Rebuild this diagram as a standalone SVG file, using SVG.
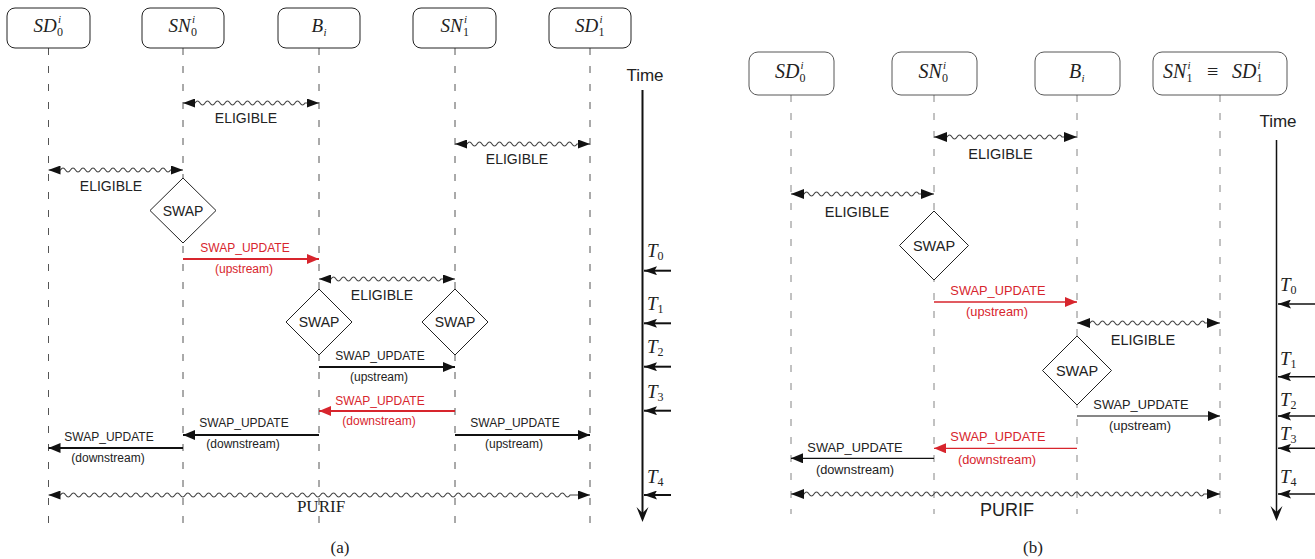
<svg xmlns="http://www.w3.org/2000/svg" width="1315" height="559" viewBox="0 0 1315 559">
<style>
.box{fill:#fff;stroke:#222;stroke-width:1}
.boxb{fill:#fff;stroke:#444;stroke-width:0.9}
.life{fill:none;stroke:#555;stroke-width:1;stroke-dasharray:7 11}
.lifeb{fill:none;stroke:#777;stroke-width:0.9;stroke-dasharray:7 11}
.dia{fill:#fff;stroke:#222;stroke-width:1}
.wave{fill:none;stroke:#444;stroke-width:1.1}
.msg{fill:none;stroke:#111;stroke-width:2}
.msgr{fill:none;stroke:#d7252d;stroke-width:2}
.msgb{fill:none;stroke:#111;stroke-width:1.2}
.msgbr{fill:none;stroke:#d7252d;stroke-width:1.3}
.axis{fill:none;stroke:#111;stroke-width:2}
.axisb{fill:none;stroke:#111;stroke-width:1.5}
.m{font-family:"Liberation Serif","Times New Roman",serif;font-style:italic;font-size:19px;fill:#222}
.mb{font-family:"Liberation Serif","Times New Roman",serif;font-style:italic;font-size:20px;fill:#222}
.sub{font-style:normal;font-size:12px}
.subi{font-size:11px}
.t{font-family:"Liberation Sans",Arial,sans-serif;fill:#222;text-anchor:middle}
.s12{font-size:12px}
.s13{font-size:12.8px}
.el{font-size:14px}
.elb{font-size:14.5px}
.red{fill:#d7252d}
.serif{font-family:"Liberation Serif","Times New Roman",serif;fill:#222;text-anchor:middle}
</style>
<defs>
<marker id="aw" viewBox="0 0 12 9" refX="12" refY="4.5" markerWidth="12" markerHeight="9" markerUnits="userSpaceOnUse" orient="auto-start-reverse"><path d="M0,0 L12,4.5 L0,9 z" fill="#111"/></marker>
<marker id="awb" viewBox="0 0 13 10" refX="13" refY="5" markerWidth="13" markerHeight="10" markerUnits="userSpaceOnUse" orient="auto-start-reverse"><path d="M0,0 L13,5 L0,10 z" fill="#111"/></marker>
<marker id="ak" viewBox="0 0 12 10" refX="12" refY="5" markerWidth="12" markerHeight="10" markerUnits="userSpaceOnUse" orient="auto"><path d="M0,0 L12,5 L0,10 z" fill="#111"/></marker>
<marker id="ar" viewBox="0 0 12 10" refX="12" refY="5" markerWidth="12" markerHeight="10" markerUnits="userSpaceOnUse" orient="auto"><path d="M0,0 L12,5 L0,10 z" fill="#d7252d"/></marker>
<marker id="at" viewBox="0 0 13 9" refX="13" refY="4.5" markerWidth="13" markerHeight="9" markerUnits="userSpaceOnUse" orient="auto"><path d="M0,0 L13,4.5 L0,9 L2.5,4.5 z" fill="#111"/></marker>
</defs>
<rect width="1315" height="559" fill="#fff"/>

<!-- ===== Panel (a) ===== -->
<g id="a-SD0">
<line class="life" x1="48.5" y1="48" x2="48.5" y2="523"/>
<rect class="box" x="7" y="8" width="83" height="40" rx="8"/>
<text class="m" x="33.5" y="32">SD<tspan class="sub" x="57" y="36">0</tspan><tspan class="subi" x="58" y="23">i</tspan></text>
</g>
<g id="a-SN0">
<line class="life" x1="183" y1="48" x2="183" y2="523"/>
<rect class="box" x="142" y="8" width="82" height="40" rx="8"/>
<text class="m" x="168.5" y="32">SN<tspan class="sub" x="191" y="36">0</tspan><tspan class="subi" x="192" y="23">i</tspan></text>
</g>
<g id="a-B">
<line class="life" x1="319" y1="48" x2="319" y2="523"/>
<rect class="box" x="278" y="8" width="82" height="40" rx="8"/>
<text class="m" x="311.5" y="32">B<tspan class="subi" x="323.5" y="36">i</tspan></text>
</g>
<g id="a-SN1">
<line class="life" x1="455" y1="48" x2="455" y2="523"/>
<rect class="box" x="413" y="8" width="83" height="40" rx="8"/>
<text class="m" x="440.5" y="32">SN<tspan class="sub" x="463" y="36">1</tspan><tspan class="subi" x="464" y="23">i</tspan></text>
</g>
<g id="a-SD1">
<line class="life" x1="590" y1="48" x2="590" y2="523"/>
<rect class="box" x="549" y="8" width="82" height="40" rx="8"/>
<text class="m" x="575" y="32">SD<tspan class="sub" x="598.5" y="36">1</tspan><tspan class="subi" x="599.5" y="23">i</tspan></text>
</g>
<g id="a-swap-SN0">
<polygon class="dia" points="183,178 216,210.5 183,243 150,210.5"/>
<text class="t el" x="183" y="215.5">SWAP</text>
</g>
<g id="a-swap-B">
<polygon class="dia" points="319,289 352,322 319,355 286,322"/>
<text class="t el" x="319" y="327">SWAP</text>
</g>
<g id="a-swap-SN1">
<polygon class="dia" points="455,289 488,322 455,355 422,322"/>
<text class="t el" x="455" y="327">SWAP</text>
</g>

<g id="a-connectors">
<path class="wave" marker-start="url(#aw)" marker-end="url(#aw)" d="M183,103 h12 q2.5,-4 5,0 t5,0 t5,0 t5,0 t5,0 t5,0 t5,0 t5,0 t5,0 t5,0 t5,0 t5,0 t5,0 t5,0 t5,0 t5,0 t5,0 t5,0 t5,0 t5,0 t5,0 t5,0 H319"/>
<text class="t el" x="246" y="123">ELIGIBLE</text>
<path class="wave" marker-start="url(#aw)" marker-end="url(#aw)" d="M455,144 h12 q2.5,-4 5,0 t5,0 t5,0 t5,0 t5,0 t5,0 t5,0 t5,0 t5,0 t5,0 t5,0 t5,0 t5,0 t5,0 t5,0 t5,0 t5,0 t5,0 t5,0 t5,0 t5,0 t5,0 H590"/>
<text class="t el" x="517" y="164">ELIGIBLE</text>
<path class="wave" marker-start="url(#aw)" marker-end="url(#aw)" d="M48.5,170 h12 q2.5,-4 5,0 t5,0 t5,0 t5,0 t5,0 t5,0 t5,0 t5,0 t5,0 t5,0 t5,0 t5,0 t5,0 t5,0 t5,0 t5,0 t5,0 t5,0 t5,0 t5,0 t5,0 t5,0 H183"/>
<text class="t el" x="111" y="191">ELIGIBLE</text>
<line class="msgr" x1="183" y1="259" x2="319" y2="259" marker-end="url(#ar)"/>
<text class="t s12 red" x="245" y="252">SWAP_UPDATE</text>
<text class="t s12 red" x="244" y="273">(upstream)</text>
<path class="wave" marker-start="url(#aw)" marker-end="url(#aw)" d="M319,279 h12 q2.5,-4 5,0 t5,0 t5,0 t5,0 t5,0 t5,0 t5,0 t5,0 t5,0 t5,0 t5,0 t5,0 t5,0 t5,0 t5,0 t5,0 t5,0 t5,0 t5,0 t5,0 t5,0 t5,0 H455"/>
<text class="t el" x="382" y="300">ELIGIBLE</text>
<line class="msg" x1="319" y1="367" x2="455" y2="367" marker-end="url(#ak)"/>
<text class="t s12" x="380" y="360">SWAP_UPDATE</text>
<text class="t s12" x="379" y="381">(upstream)</text>
<line class="msgr" x1="455" y1="411" x2="319" y2="411" marker-end="url(#ar)"/>
<text class="t s12 red" x="380" y="405">SWAP_UPDATE</text>
<text class="t s12 red" x="379" y="425">(downstream)</text>
<line class="msg" x1="319" y1="435" x2="183" y2="435" marker-end="url(#ak)"/>
<text class="t s12" x="244" y="427">SWAP_UPDATE</text>
<text class="t s12" x="243" y="448">(downstream)</text>
<line class="msg" x1="455" y1="435" x2="590" y2="435" marker-end="url(#ak)"/>
<text class="t s12" x="515" y="427">SWAP_UPDATE</text>
<text class="t s12" x="514" y="448">(upstream)</text>
<line class="msg" x1="183" y1="448" x2="48.5" y2="448" marker-end="url(#ak)"/>
<text class="t s12" x="109" y="441">SWAP_UPDATE</text>
<text class="t s12" x="108" y="462">(downstream)</text>
<path class="wave" marker-start="url(#aw)" marker-end="url(#aw)" d="M48.5,495 h12 q2.6,-4 5.2,0 t5.2,0 t5.2,0 t5.2,0 t5.2,0 t5.2,0 t5.2,0 t5.2,0 t5.2,0 t5.2,0 t5.2,0 t5.2,0 t5.2,0 t5.2,0 t5.2,0 t5.2,0 t5.2,0 t5.2,0 t5.2,0 t5.2,0 t5.2,0 t5.2,0 t5.2,0 t5.2,0 t5.2,0 t5.2,0 t5.2,0 t5.2,0 t5.2,0 t5.2,0 t5.2,0 t5.2,0 t5.2,0 t5.2,0 t5.2,0 t5.2,0 t5.2,0 t5.2,0 t5.2,0 t5.2,0 t5.2,0 t5.2,0 t5.2,0 t5.2,0 t5.2,0 t5.2,0 t5.2,0 t5.2,0 t5.2,0 t5.2,0 t5.2,0 t5.2,0 t5.2,0 t5.2,0 t5.2,0 t5.2,0 t5.2,0 t5.2,0 t5.2,0 t5.2,0 t5.2,0 t5.2,0 t5.2,0 t5.2,0 t5.2,0 t5.2,0 t5.2,0 t5.2,0 t5.2,0 t5.2,0 t5.2,0 t5.2,0 t5.2,0 t5.2,0 t5.2,0 t5.2,0 t5.2,0 t5.2,0 t5.2,0 t5.2,0 t5.2,0 t5.2,0 t5.2,0 t5.2,0 t5.2,0 t5.2,0 t5.2,0 t5.2,0 t5.2,0 t5.2,0 t5.2,0 t5.2,0 t5.2,0 t5.2,0 t5.2,0 t5.2,0 t5.2,0 t5.2,0 H590"/>
<text class="serif" x="321" y="512" font-size="17">PURIF</text>
</g>

<g id="a-time">
<text class="t" x="645" y="81" font-size="17">Time</text>
<line class="axis" x1="642.5" y1="90" x2="642.5" y2="514"/>
<polygon points="642.5,522 636.5,507 642.5,513 648.5,507" fill="#111"/>
<line class="axis" x1="671" y1="270.7" x2="644" y2="270.7" marker-end="url(#at)"/>
<line class="axis" x1="671" y1="323.3" x2="644" y2="323.3" marker-end="url(#at)"/>
<line class="axis" x1="671" y1="366.7" x2="644" y2="366.7" marker-end="url(#at)"/>
<line class="axis" x1="671" y1="410.7" x2="644" y2="410.7" marker-end="url(#at)"/>
<line class="axis" x1="671" y1="495" x2="644" y2="495" marker-end="url(#at)"/>
<text class="m" x="647" y="257">T<tspan class="sub" dy="3">0</tspan></text>
<text class="m" x="647" y="310">T<tspan class="sub" dy="3">1</tspan></text>
<text class="m" x="647" y="353">T<tspan class="sub" dy="3">2</tspan></text>
<text class="m" x="647" y="398">T<tspan class="sub" dy="3">3</tspan></text>
<text class="m" x="647" y="483">T<tspan class="sub" dy="3">4</tspan></text>
</g>
<text class="serif" x="340" y="553" font-size="17">(a)</text>

<!-- ===== Panel (b) ===== -->
<g id="b-SD0">
<line class="lifeb" x1="791" y1="95" x2="791" y2="514"/>
<rect class="boxb" x="749" y="52" width="85" height="43" rx="9"/>
<text class="mb" x="775" y="78">SD<tspan class="sub" x="799.5" y="82">0</tspan><tspan class="subi" x="800.5" y="69">i</tspan></text>
</g>
<g id="b-SN0">
<line class="lifeb" x1="934" y1="95" x2="934" y2="514"/>
<rect class="boxb" x="892" y="52" width="85" height="43" rx="9"/>
<text class="mb" x="918.5" y="78">SN<tspan class="sub" x="942" y="82">0</tspan><tspan class="subi" x="943" y="69">i</tspan></text>
</g>
<g id="b-B">
<line class="lifeb" x1="1077" y1="95" x2="1077" y2="514"/>
<rect class="boxb" x="1035" y="52" width="85" height="43" rx="9"/>
<text class="mb" x="1069" y="78">B<tspan class="subi" x="1081.5" y="82">i</tspan></text>
</g>
<g id="b-SN1SD1">
<line class="lifeb" x1="1220" y1="95" x2="1220" y2="514"/>
<rect class="boxb" x="1153" y="52" width="134" height="43" rx="9"/>
<text class="mb" x="1163" y="78">SN<tspan class="sub" x="1186.5" y="82">1</tspan><tspan class="subi" x="1187.5" y="69">i</tspan><tspan x="1207" y="78" font-style="normal">≡</tspan><tspan x="1232" y="78">SD</tspan><tspan class="sub" x="1256.5" y="82">1</tspan><tspan class="subi" x="1257.5" y="69">i</tspan></text>
</g>
<g id="b-swap-SN0">
<polygon class="dia" points="934,211 968.5,245.5 934,280 899.5,245.5"/>
<text class="t elb" x="934" y="250.5">SWAP</text>
</g>
<g id="b-swap-B">
<polygon class="dia" points="1077,336 1111.5,370.5 1077,405 1042.5,370.5"/>
<text class="t elb" x="1077" y="375.5">SWAP</text>
</g>

<g id="b-connectors">
<path class="wave" marker-start="url(#awb)" marker-end="url(#awb)" d="M934,137 h13 q2.5,-4 5,0 t5,0 t5,0 t5,0 t5,0 t5,0 t5,0 t5,0 t5,0 t5,0 t5,0 t5,0 t5,0 t5,0 t5,0 t5,0 t5,0 t5,0 t5,0 t5,0 t5,0 t5,0 t5,0 H1077"/>
<text class="t elb" x="1000.5" y="159">ELIGIBLE</text>
<path class="wave" marker-start="url(#awb)" marker-end="url(#awb)" d="M791,194 h13 q2.5,-4 5,0 t5,0 t5,0 t5,0 t5,0 t5,0 t5,0 t5,0 t5,0 t5,0 t5,0 t5,0 t5,0 t5,0 t5,0 t5,0 t5,0 t5,0 t5,0 t5,0 t5,0 t5,0 t5,0 H934"/>
<text class="t elb" x="857" y="217">ELIGIBLE</text>
<line class="msgbr" x1="934" y1="302" x2="1077" y2="302" marker-end="url(#ar)"/>
<text class="t s13 red" x="998" y="294.5">SWAP_UPDATE</text>
<text class="t s13 red" x="997" y="316">(upstream)</text>
<path class="wave" marker-start="url(#awb)" marker-end="url(#awb)" d="M1077,323 h13 q2.5,-4 5,0 t5,0 t5,0 t5,0 t5,0 t5,0 t5,0 t5,0 t5,0 t5,0 t5,0 t5,0 t5,0 t5,0 t5,0 t5,0 t5,0 t5,0 t5,0 t5,0 t5,0 t5,0 t5,0 H1220"/>
<text class="t elb" x="1143" y="344.5">ELIGIBLE</text>
<line class="msgb" x1="1077" y1="416" x2="1220" y2="416" marker-end="url(#ak)"/>
<text class="t s13" x="1141" y="408.5">SWAP_UPDATE</text>
<text class="t s13" x="1140" y="430">(upstream)</text>
<line class="msgbr" x1="1077" y1="448.3" x2="934" y2="448.3" marker-end="url(#ar)"/>
<text class="t s13 red" x="998" y="441">SWAP_UPDATE</text>
<text class="t s13 red" x="997" y="463.5">(downstream)</text>
<line class="msgb" x1="934" y1="458.3" x2="791" y2="458.3" marker-end="url(#ak)"/>
<text class="t s13" x="855" y="452">SWAP_UPDATE</text>
<text class="t s13" x="855" y="473.5">(downstream)</text>
<path class="wave" marker-start="url(#awb)" marker-end="url(#awb)" d="M791,494 h13 q2.5,-4 5,0 t5,0 t5,0 t5,0 t5,0 t5,0 t5,0 t5,0 t5,0 t5,0 t5,0 t5,0 t5,0 t5,0 t5,0 t5,0 t5,0 t5,0 t5,0 t5,0 t5,0 t5,0 t5,0 t5,0 t5,0 t5,0 t5,0 t5,0 t5,0 t5,0 t5,0 t5,0 t5,0 t5,0 t5,0 t5,0 t5,0 t5,0 t5,0 t5,0 t5,0 t5,0 t5,0 t5,0 t5,0 t5,0 t5,0 t5,0 t5,0 t5,0 t5,0 t5,0 t5,0 t5,0 t5,0 t5,0 t5,0 t5,0 t5,0 t5,0 t5,0 t5,0 t5,0 t5,0 t5,0 t5,0 t5,0 t5,0 t5,0 t5,0 t5,0 t5,0 t5,0 t5,0 t5,0 t5,0 t5,0 t5,0 t5,0 t5,0 H1220"/>
<text class="t" x="1007" y="516" font-size="18">PURIF</text>
</g>

<g id="b-time">
<text class="t" x="1278" y="127" font-size="17">Time</text>
<line class="axisb" x1="1276.5" y1="140" x2="1276.5" y2="513"/>
<polygon points="1276.5,521 1270.5,506 1276.5,512 1282.5,506" fill="#111"/>
<line class="axisb" x1="1315" y1="304" x2="1278" y2="304" marker-end="url(#at)"/>
<line class="axisb" x1="1315" y1="376.7" x2="1278" y2="376.7" marker-end="url(#at)"/>
<line class="axisb" x1="1315" y1="416" x2="1278" y2="416" marker-end="url(#at)"/>
<line class="axisb" x1="1315" y1="448.3" x2="1278" y2="448.3" marker-end="url(#at)"/>
<line class="axisb" x1="1315" y1="494" x2="1278" y2="494" marker-end="url(#at)"/>
<text class="m" x="1280" y="291">T<tspan class="sub" dy="3">0</tspan></text>
<text class="m" x="1280" y="365">T<tspan class="sub" dy="3">1</tspan></text>
<text class="m" x="1280" y="406">T<tspan class="sub" dy="3">2</tspan></text>
<text class="m" x="1280" y="440">T<tspan class="sub" dy="3">3</tspan></text>
<text class="m" x="1280" y="483">T<tspan class="sub" dy="3">4</tspan></text>
</g>
<text class="serif" x="1033" y="553" font-size="17">(b)</text>
</svg>
